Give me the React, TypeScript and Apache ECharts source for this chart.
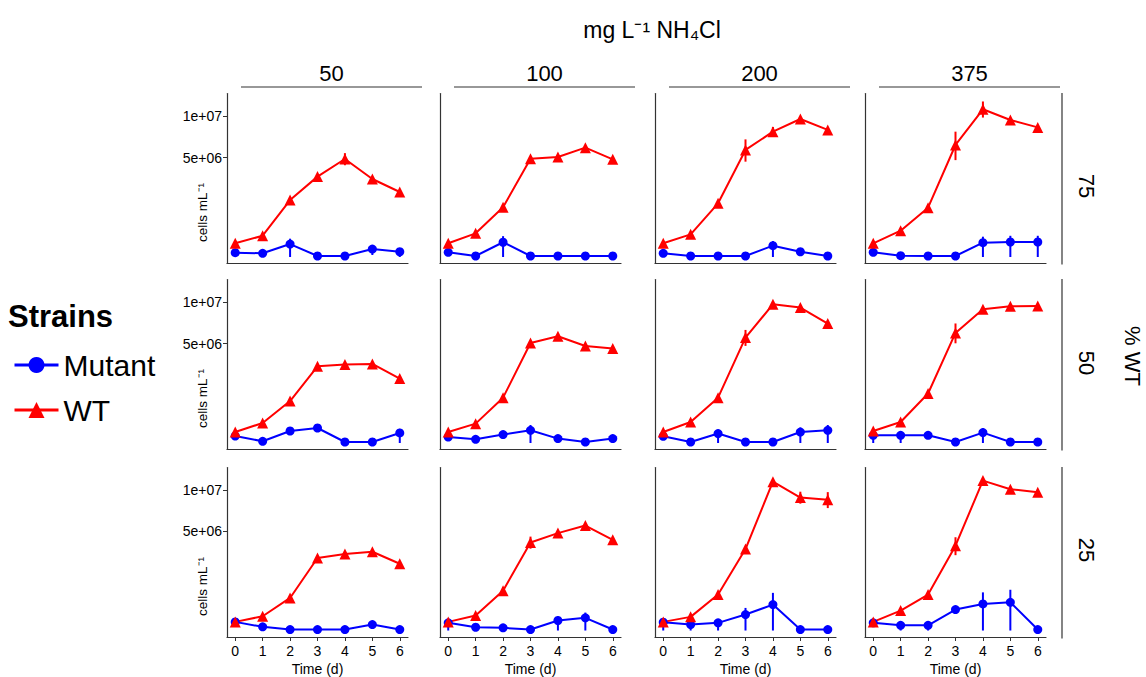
import React, { useEffect, useRef } from "react";
import * as echarts from "echarts";

// ---------- data ----------
const days = [0, 1, 2, 3, 4, 5, 6];
const nh4Levels = ["50", "100", "200", "375"];
const wtLevels = ["75", "50", "25"];
const yTickValues = [5e6, 1e7];

// each array: one inner list per NH4Cl level (50, 100, 200, 375), one value per day
const wtMean75 = [
  [9.5e4, 2.3e5, 1.64e6, 3.27e6, 4.86e6, 3.08e6, 2.14e6],
  [9.5e4, 2.84e5, 1.25e6, 4.89e6, 5.06e6, 6.05e6, 4.83e6],
  [9.5e4, 2.6e5, 1.46e6, 5.8e6, 7.95e6, 9.64e6, 8.17e6],
  [9.5e4, 3.5e5, 1.23e6, 6.35e6, 1.104e7, 9.5e6, 8.5e6],
];
const wtSe75 = [
  [0, 0, 1e5, 1e5, 6e5, 0, 0],
  [0, 0, 0, 1e5, 1e5, 1e5, 0],
  [0, 0, 1e5, 1.2e6, 6e5, 1e5, 0],
  [0, 0, 1.5e5, 1.6e6, 1.2e6, 0, 0],
];
const mutMean75 = [
  [9.4e3, 6.9e3, 8.5e4, 500, 500, 3.2e4, 1.4e4],
  [1.1e4, 500, 1.1e5, 500, 500, 500, 500],
  [6.9e3, 500, 500, 500, 6.5e4, 1.4e4, 500],
  [1.1e4, 850, 500, 500, 1.04e5, 1.14e5, 1.14e5],
];
const mutSe75 = [
  [0, 0, 8.5e4, 0, 0, 3e4, 1.4e4],
  [0, 0, 1.1e5, 0, 0, 0, 0],
  [0, 0, 0, 0, 6.5e4, 0, 0],
  [0, 0, 0, 0, 1.05e5, 1.14e5, 1.14e5],
];

const wtMean50 = [
  [6.1e4, 2.03e5, 8.9e5, 2.98e6, 3.11e6, 3.16e6, 2.1e6],
  [6.1e4, 1.9e5, 1.04e6, 5.06e6, 5.76e6, 4.76e6, 4.51e6],
  [6.1e4, 2.23e5, 1.04e6, 5.62e6, 9.74e6, 9.28e6, 7.22e6],
  [7.3e4, 2.23e5, 1.24e6, 6.13e6, 9.05e6, 9.46e6, 9.5e6],
];
const wtSe50 = [
  [0, 0, 0, 1e5, 1e5, 0, 0],
  [0, 0, 1e5, 1e5, 0, 0, 1e5],
  [0, 0, 1e5, 8.5e5, 0, 0, 0],
  [0, 0, 1e5, 1.1e6, 0, 0, 3e5],
];
const mutMean50 = [
  [2.5e4, 1.5e3, 7.3e4, 1.14e5, 500, 500, 5.1e4],
  [1.8e4, 6.9e3, 3.6e4, 8.2e4, 9.8e3, 500, 9.8e3],
  [2.3e4, 500, 4.5e4, 500, 500, 6.1e4, 8.2e4],
  [3e4, 3e4, 3e4, 500, 5.5e4, 500, 500],
];
const mutSe50 = [
  [0, 0, 1e4, 3e4, 0, 0, 5.1e4],
  [0, 0, 0, 8.2e4, 0, 0, 0],
  [0, 0, 4.5e4, 0, 0, 6.1e4, 8.2e4],
  [3e4, 3e4, 0, 0, 5.5e4, 0, 0],
];

const wtMean25 = [
  [3.8e4, 1.04e5, 5.4e5, 2.68e6, 2.98e6, 3.16e6, 2.27e6],
  [3.8e4, 1.14e5, 8.1e5, 3.95e6, 4.83e6, 5.61e6, 4.19e6],
  [3.8e4, 9.5e4, 6.6e5, 3.38e6, 1.128e7, 9.0e6, 8.69e6],
  [3.8e4, 2.03e5, 6.6e5, 3.66e6, 1.144e7, 1.016e7, 9.74e6],
];
const wtSe25 = [
  [0, 0, 0, 1e5, 1e5, 1e5, 0],
  [0, 0, 1.5e5, 5.4e5, 1e5, 0, 0],
  [0, 0, 0, 0, 0, 8.1e5, 1.06e6],
  [0, 0, 0, 7.7e5, 0, 4e5, 0],
];
const mutMean25 = [
  [3.8e4, 6.9e3, 500, 500, 500, 1.8e4, 500],
  [3e4, 5.5e3, 3.7e3, 500, 5.1e4, 8.2e4, 500],
  [3.5e4, 1.8e4, 3e4, 1.3e5, 3.42e5, 500, 500],
  [3e4, 1.4e4, 1.4e4, 2.23e5, 3.61e5, 4.06e5, 500],
];
const mutSe25 = [
  [0, 0, 0, 0, 0, 1e4, 0],
  [3e4, 0, 0, 0, 5.1e4, 8.2e4, 0],
  [3.5e4, 1.8e4, 3e4, 1.3e5, 3.8e5, 0, 0],
  [0, 1.4e4, 1.4e4, 0, 3.8e5, 4.4e5, 0],
];

const wtMeanRows = [wtMean75, wtMean50, wtMean25];
const wtSeRows = [wtSe75, wtSe50, wtSe25];
const mutMeanRows = [mutMean75, mutMean50, mutMean25];
const mutSeRows = [mutSe75, mutSe50, mutSe25];

// ---------- layout ----------
const FONT = "Liberation Sans, Arial, sans-serif";
const colLefts = [227, 440, 655, 865];
const rowTops = [93.5, 279.5, 467.5];
const PANEL_W = 181;
const PANEL_H = 170;
const Y_MIN = -146; // sqrt scale units
const Y_MAX = 3678;
const BLUE = "#0000FF";
const RED = "#FF0000";
const AXIS = "#333333";

const sq = (v: number) => Math.sqrt(Math.max(0, v));

function fmtSci(v: number): string {
  const n = Math.round(v * v);
  if (n <= 0) return "0";
  const e = Math.floor(Math.log10(n));
  const m = Math.round((n / Math.pow(10, e)) * 100) / 100;
  return `${m}e+${String(e).padStart(2, "0")}`;
}

function errData(mean: number[], se: number[]) {
  const out: number[][] = [];
  days.forEach((d, k) => {
    if (se[k] > 0) out.push([d, sq(mean[k] - se[k]), sq(mean[k] + se[k])]);
  });
  return out;
}

function errSeries(idx: number, data: number[][], color: string, name: string) {
  return {
    type: "custom",
    name,
    xAxisIndex: idx,
    yAxisIndex: idx,
    data,
    silent: true,
    renderItem: (params: any, api: any) => {
      const x = api.value(0);
      const p1 = api.coord([x, api.value(1)]);
      const p2 = api.coord([x, api.value(2)]);
      return {
        type: "line",
        shape: { x1: p1[0], y1: p1[1], x2: p2[0], y2: p2[1] },
        style: { stroke: color, lineWidth: 2 },
      };
    },
  };
}

function txt(x: number, y: number, text: string, fontSize: number, extra: any = {}, rotation = 0) {
  return {
    type: "text",
    x,
    y,
    rotation,
    style: {
      text,
      fontSize,
      fontFamily: FONT,
      fill: "#000",
      align: "center",
      verticalAlign: "middle",
      textAlign: "center",
      textVerticalAlign: "middle",
      ...extra,
    },
  };
}

function buildOption() {
  const grids: any[] = [];
  const xAxes: any[] = [];
  const yAxes: any[] = [];
  const series: any[] = [];
  const graphics: any[] = [];
  const yTickSqrt = yTickValues.map(sq);

  wtLevels.forEach((wl, r) => {
    nh4Levels.forEach((nl, c) => {
      const idx = r * 4 + c;
      grids.push({ left: colLefts[c], top: rowTops[r], width: PANEL_W, height: PANEL_H, containLabel: false });
      const bottomRow = r === wtLevels.length - 1;
      xAxes.push({
        gridIndex: idx,
        type: "value",
        min: -0.3,
        max: 6.3,
        axisLine: { show: true, onZero: false, lineStyle: { color: AXIS, width: 1.2 } },
        axisTick: { show: bottomRow, customValues: days, length: 4, lineStyle: { color: AXIS } },
        axisLabel: {
          show: bottomRow,
          customValues: days,
          fontSize: 14,
          color: "#000",
          fontFamily: FONT,
          margin: 7,
        },
        splitLine: { show: false },
        name: bottomRow ? "Time (d)" : "",
        nameLocation: "middle",
        nameGap: 25,
        nameTextStyle: { fontSize: 14, color: "#000", fontFamily: FONT },
      });
      yAxes.push({
        gridIndex: idx,
        type: "value",
        min: Y_MIN,
        max: Y_MAX,
        axisLine: { show: true, onZero: false, lineStyle: { color: AXIS, width: 1.2 } },
        axisTick: { show: c === 0, customValues: yTickSqrt, length: 4, lineStyle: { color: AXIS } },
        axisLabel: {
          show: c === 0,
          customValues: yTickSqrt,
          formatter: (v: number) => fmtSci(v),
          fontSize: 14,
          color: "#000",
          fontFamily: FONT,
          margin: 5,
        },
        splitLine: { show: false },
      });

      const mMean = mutMeanRows[r][c];
      const mSe = mutSeRows[r][c];
      const wMean = wtMeanRows[r][c];
      const wSe = wtSeRows[r][c];

      series.push(errSeries(idx, errData(mMean, mSe), BLUE, "Mutant error"));
      series.push({
        type: "line",
        name: "Mutant",
        xAxisIndex: idx,
        yAxisIndex: idx,
        data: days.map((d, k) => [d, sq(mMean[k])]),
        symbol: "circle",
        symbolSize: 9,
        showSymbol: true,
        lineStyle: { color: BLUE, width: 2 },
        itemStyle: { color: BLUE },
      });
      series.push(errSeries(idx, errData(wMean, wSe), RED, "WT error"));
      series.push({
        type: "line",
        name: "WT",
        xAxisIndex: idx,
        yAxisIndex: idx,
        data: days.map((d, k) => [d, sq(wMean[k])]),
        symbol: "triangle",
        symbolSize: 11,
        showSymbol: true,
        lineStyle: { color: RED, width: 2 },
        itemStyle: { color: RED },
      });
    });

    // y axis title per row
    graphics.push(txt(202, rowTops[r] + 119, "cells mL⁻¹", 13.5, {}, Math.PI / 2));
    // right strip
    graphics.push({
      type: "line",
      shape: { x1: 1062, y1: rowTops[r] - 0.5, x2: 1062, y2: rowTops[r] + PANEL_H + 1 },
      style: { stroke: AXIS, lineWidth: 1.2 },
    });
    const labelYs = [186, 363, 550];
    graphics.push(txt(1086, labelYs[r], wl, 22, {}, -Math.PI / 2));
  });

  // top strips
  nh4Levels.forEach((nl, c) => {
    const x1 = colLefts[c] + 14;
    const x2 = colLefts[c] + 195;
    graphics.push({
      type: "line",
      shape: { x1, y1: 87, x2, y2: 87 },
      style: { stroke: AXIS, lineWidth: 1.2 },
    });
    graphics.push(txt((x1 + x2) / 2, 73, nl, 22));
  });

  graphics.push(txt(652, 30, "mg L⁻¹ NH₄Cl", 23));
  graphics.push(txt(1132, 356, "% WT", 22, {}, -Math.PI / 2));
  graphics.push(
    txt(8, 316, "Strains", 31, { fontWeight: "bold", align: "left", textAlign: "left" })
  );

  return {
    animation: false,
    backgroundColor: "#ffffff",
    textStyle: { fontFamily: FONT },
    grid: grids,
    xAxis: xAxes,
    yAxis: yAxes,
    series,
    legend: {
      data: ["Mutant", "WT"],
      orient: "vertical",
      left: 13,
      top: 350,
      padding: 0,
      itemWidth: 44,
      itemHeight: 20,
      itemGap: 15,
      lineStyle: { width: 3 },
      selectedMode: false,
      textStyle: { fontSize: 30, color: "#000", fontFamily: FONT },
    },
    graphic: graphics,
  };
}

export default function App() {
  const ref = useRef<HTMLDivElement>(null);
  useEffect(() => {
    document.body.style.margin = "0";
    if (!ref.current) return;
    const chart = echarts.init(ref.current, undefined, { renderer: "svg" });
    chart.setOption(buildOption() as any);
    return () => chart.dispose();
  }, []);
  return <div ref={ref} style={{ width: 1146, height: 677 }} />;
}
